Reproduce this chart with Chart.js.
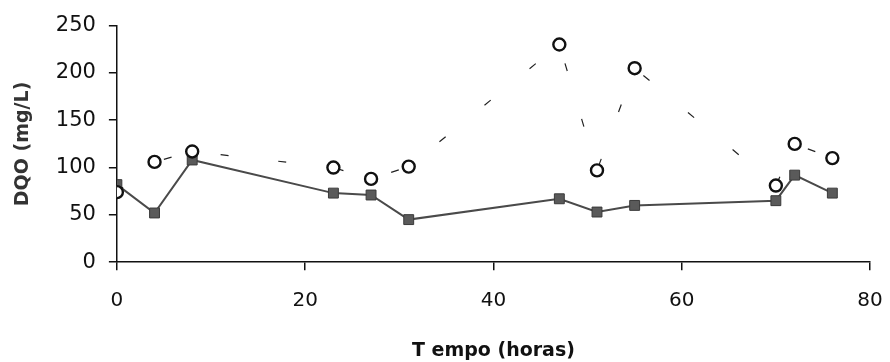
<!DOCTYPE html>
<html>
<head>
<meta charset="utf-8">
<script src="https://cdn.jsdelivr.net/npm/chart.js@4.4.0/dist/chart.umd.min.js"></script>
<style>
  html, body { margin: 0; padding: 0; background: #fff; }
  #wrap { width: 890px; height: 362px; position: relative; }
</style>
</head>
<body>
<div id="wrap"><canvas id="dqoChart"></canvas></div>
<script>
// Time in hours (x) and COD values (mg/L)
const horas = [0, 4, 8, 23, 27, 31, 47, 51, 55, 70, 72, 76];
const dqoSquares = [82, 52, 108, 73, 71, 45, 67, 53, 60, 65, 92, 73];
const dqoCircles = [74, 106, 117, 100, 88, 101, 230, 97, 205, 81, 125, 110];
const xTicks = [0, 20, 40, 60, 80];
const yTicks = [0, 50, 100, 150, 200, 250];

const FONT = 'DejaVu Sans';

function toPoints(ys) {
  return horas.map((h, i) => ({ x: h, y: ys[i] }));
}

new Chart(document.getElementById('dqoChart'), {
  type: 'line',
  data: {
    datasets: [
      {
        label: 'circles',
        data: toPoints(dqoCircles),
        borderColor: '#222',
        borderWidth: 1.2,
        borderDash: [8, 50],
        pointStyle: 'circle',
        pointRadius: 6,
        pointBorderWidth: 2.4,
        pointBackgroundColor: '#fff',
        pointBorderColor: '#111',
        tension: 0,
        order: 1
      },
      {
        label: 'squares',
        data: toPoints(dqoSquares),
        borderColor: '#4a4a4a',
        borderWidth: 2,
        pointStyle: 'rect',
        pointRadius: 7,
        pointBorderWidth: 1,
        pointBackgroundColor: '#5a5a5a',
        pointBorderColor: '#3a3a3a',
        tension: 0,
        order: 2
      }
    ]
  },
  options: {
    responsive: true,
    maintainAspectRatio: false,
    animation: false,
    layout: { padding: { left: 12, right: 20, top: 14, bottom: 0 } },
    plugins: {
      legend: { display: false },
      tooltip: { enabled: false }
    },
    scales: {
      x: {
        type: 'linear',
        min: 0,
        max: 80,
        afterBuildTicks: axis => { axis.ticks = xTicks.map(v => ({ value: v })); },
        // let the last label hang into the right padding
        afterFit: axis => { axis.paddingRight = 0; },
        border: { color: '#111', width: 1.5 },
        grid: { drawOnChartArea: false, tickLength: 8, color: '#111', lineWidth: 1.5 },
        ticks: {
          color: '#111',
          padding: 19,
          maxRotation: 0,
          font: { family: FONT, size: 20 }
        },
        title: {
          display: true,
          text: 'T empo (horas)',
          color: '#111',
          padding: { top: 7, bottom: 0 },
          font: { family: FONT, size: 19, weight: 'bold' }
        }
      },
      y: {
        min: 0,
        max: 250,
        afterBuildTicks: axis => { axis.ticks = yTicks.map(v => ({ value: v })); },
        border: { color: '#111', width: 1.5 },
        grid: { drawOnChartArea: false, tickLength: 8, color: '#111', lineWidth: 1.5 },
        ticks: {
          color: '#111',
          padding: 13,
          font: { family: FONT, size: 21 }
        },
        title: {
          display: true,
          text: 'DQO (mg/L)',
          color: '#333',
          padding: { top: 0, bottom: 8 },
          font: { family: FONT, size: 19, weight: 'bold' }
        }
      }
    }
  }
});
</script>
</body>
</html>
